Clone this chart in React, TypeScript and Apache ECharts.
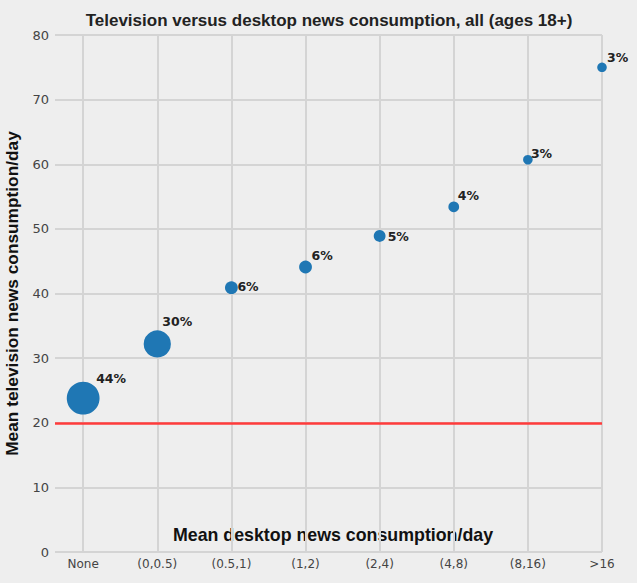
import React, { useEffect, useRef } from "react";
import * as echarts from "echarts";

const categories = ["None", "(0,0.5)", "(0.5,1)", "(1,2)", "(2,4)", "(4,8)", "(8,16)", ">16"];
const tvMinutes = [23.8, 32.2, 40.9, 44.1, 48.9, 53.4, 60.7, 75.0];
const sharePct = [44, 30, 6, 6, 5, 4, 3, 3];
const referenceLine = 20;

// label offsets (style only)
const labelOffsets: [number, number][] = [
  [13, -20], [5, -22], [6, -1], [6, -12], [8, 1], [4, -11], [3, -6], [5, -10],
];

export default function App() {
  const ref = useRef<HTMLDivElement>(null);
  useEffect(() => {
    if (!ref.current) return;
    const chart = echarts.init(ref.current, null, { renderer: "svg" });
    const points = categories.map((c, i) => ({
      value: [i, tvMinutes[i], sharePct[i]],
      label: { offset: labelOffsets[i] },
    }));
    chart.setOption({
      animation: false,
      backgroundColor: "#eeeeee",
      grid: { left: 55, right: 35, top: 35, bottom: 31, outerBoundsMode: "none", containLabel: false },
      xAxis: {
        type: "value",
        min: -0.38,
        max: 7,
        axisLine: { show: false },
        axisTick: { show: false },
        splitLine: { show: false },
        axisLabel: {
          customValues: categories.map((_, i) => i),
          formatter: (v: number) => categories[Math.round(v)] ?? "",
          fontFamily: "DejaVu Sans",
          fontSize: 12,
          color: "#444",
          margin: 6,
          hideOverlap: false,
        },
      },
      yAxis: {
        type: "value",
        min: 0,
        max: 80,
        interval: 10,
        axisLine: { show: false },
        axisTick: { show: false },
        splitLine: { lineStyle: { color: "#d4d4d4", width: 2 } },
        axisLabel: { fontFamily: "DejaVu Sans", fontSize: 13, color: "#444", margin: 6 },
      },
      graphic: [
        {
          type: "text",
          x: 329,
          y: 20,
          style: {
            text: "Television versus desktop news consumption, all (ages 18+)",
            align: "center",
            verticalAlign: "middle",
            font: "bold 17px 'Liberation Sans'",
            fill: "#222",
          },
        },
        {
          type: "text",
          x: 333,
          y: 535,
          style: {
            text: "Mean desktop news consumption/day",
            align: "center",
            verticalAlign: "middle",
            font: "bold 17.8px 'Liberation Sans'",
            fill: "#111",
          },
        },
        {
          type: "text",
          x: 12,
          y: 293.5,
          rotation: Math.PI / 2,
          style: {
            text: "Mean television news consumption/day",
            align: "center",
            verticalAlign: "middle",
            font: "bold 17.3px 'Liberation Sans'",
            fill: "#111",
          },
        },
      ],
      series: [
        {
          type: "line",
          data: [],
          silent: true,
          z: 1,
          markLine: {
            silent: true,
            z: 1,
            symbol: "none",
            label: { show: false },
            lineStyle: { color: "#d4d4d4", width: 2, type: "solid" },
            data: categories.map((_, i) => ({ xAxis: i })),
          },
        },
        {
          type: "line",
          data: [],
          silent: true,
          z: 2,
          markLine: {
            silent: true,
            z: 2,
            symbol: "none",
            label: { show: false },
            lineStyle: { color: "#ff3b3b", width: 2.5, type: "solid" },
            data: [{ yAxis: referenceLine }],
          },
        },
        {
          type: "scatter",
          z: 10,
          data: points,
          symbolSize: (v: number[]) => Math.sqrt(24 * v[2] + 20),
          itemStyle: { color: "#1f77b4", opacity: 1 },
          label: {
            show: true,
            position: "inside",
            align: "left",
            verticalAlign: "middle",
            formatter: (p: any) => `${p.value[2]}%`,
            fontFamily: "DejaVu Sans",
            fontWeight: "bold",
            fontSize: 12.5,
            color: "#222",
          },
        },
      ],
    });
    return () => chart.dispose();
  }, []);
  return <div ref={ref} style={{ position: "fixed", left: 0, top: 0, width: 637, height: 583 }} />;
}
